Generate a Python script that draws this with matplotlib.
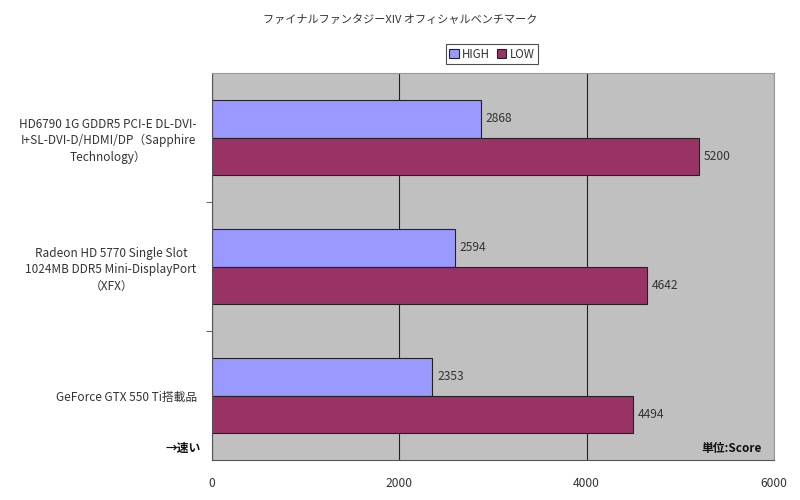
import numpy as np
import matplotlib.pyplot as plt

plt.rcParams["font.family"] = ["Noto Sans CJK JP", "DejaVu Sans"]

title = "ファイナルファンタジーXIV オフィシャルベンチマーク"
categories = [
    "HD6790 1G GDDR5 PCI-E DL-DVI-\nI+SL-DVI-D/HDMI/DP（Sapphire\nTechnology）",
    "Radeon HD 5770 Single Slot\n1024MB DDR5 Mini-DisplayPort\n（XFX）",
    "GeForce GTX 550 Ti搭載品",
]
high_scores = [2868, 2594, 2353]
low_scores = [5200, 4642, 4494]
series_names = ["HIGH", "LOW"]
x_ticks = [0, 2000, 4000, 6000]

high_color = "#9999FF"
low_color = "#993366"
text_color = "#333333"

fig = plt.figure(figsize=(8, 5), dpi=100)
ax = fig.add_axes([212 / 800, 1 - 460 / 500, 562 / 800, 387 / 500])
ax.set_facecolor("#C0C0C0")

y = np.arange(len(categories))
h = 0.287
b1 = ax.barh(y - h / 2, high_scores, height=h, color=high_color,
             edgecolor="#222222", linewidth=0.8, label=series_names[0])
b2 = ax.barh(y + h / 2, low_scores, height=h, color=low_color,
             edgecolor="#222222", linewidth=0.8, label=series_names[1])

for bars, vals in [(b1, high_scores), (b2, low_scores)]:
    for bar, v in zip(bars, vals):
        ax.text(v + 50, bar.get_y() + bar.get_height() / 2, str(v),
                va="center", ha="left", fontsize=8.7, color=text_color)

ax.set_xlim(0, 6000)
ax.set_ylim(2.5, -0.5)
ax.set_xticks(x_ticks)
ax.set_xticklabels([str(t) for t in x_ticks], fontsize=8.7, color=text_color)
ax.tick_params(axis="x", length=0, pad=12)
ax.xaxis.grid(True, color="#222222", linewidth=0.8)
ax.set_axisbelow(True)

ax.set_yticks(y)
ax.set_yticklabels(categories, fontsize=8.5, color=text_color,
                   multialignment="center", linespacing=1.35)
ax.tick_params(axis="y", which="major", length=0, pad=11)
ax.set_yticks([0.5, 1.5], minor=True)
ax.tick_params(axis="y", which="minor", length=4, color="#444444")

for side in ["left", "bottom"]:
    ax.spines[side].set_color("#555555")
for side in ["top", "right"]:
    ax.spines[side].set_color("#999999")

ax.text(-0.02, 0.03, "→速い", transform=ax.transAxes, ha="right",
        va="center", fontsize=8.5, fontweight="bold", color="#111111")
ax.text(0.979, 0.03, "単位:Score", transform=ax.transAxes, ha="right",
        va="center", fontsize=8.5, fontweight="bold", color="#111111")

fig.text(0.5, 1 - 20 / 500, title, ha="center", va="center",
         fontsize=8, color=text_color)

leg = fig.legend(handles=[b1, b2], loc="center",
                 bbox_to_anchor=(492 / 800, 1 - 54 / 500), ncol=2,
                 fontsize=8.3, frameon=True, fancybox=False,
                 handlelength=0.8, handleheight=0.8, handletextpad=0.3,
                 columnspacing=0.6, borderpad=0.3, borderaxespad=0)
leg.get_frame().set_edgecolor("#222222")
leg.get_frame().set_linewidth(0.8)
for t in leg.get_texts():
    t.set_color(text_color)

fig.savefig("out.png", dpi=100)
